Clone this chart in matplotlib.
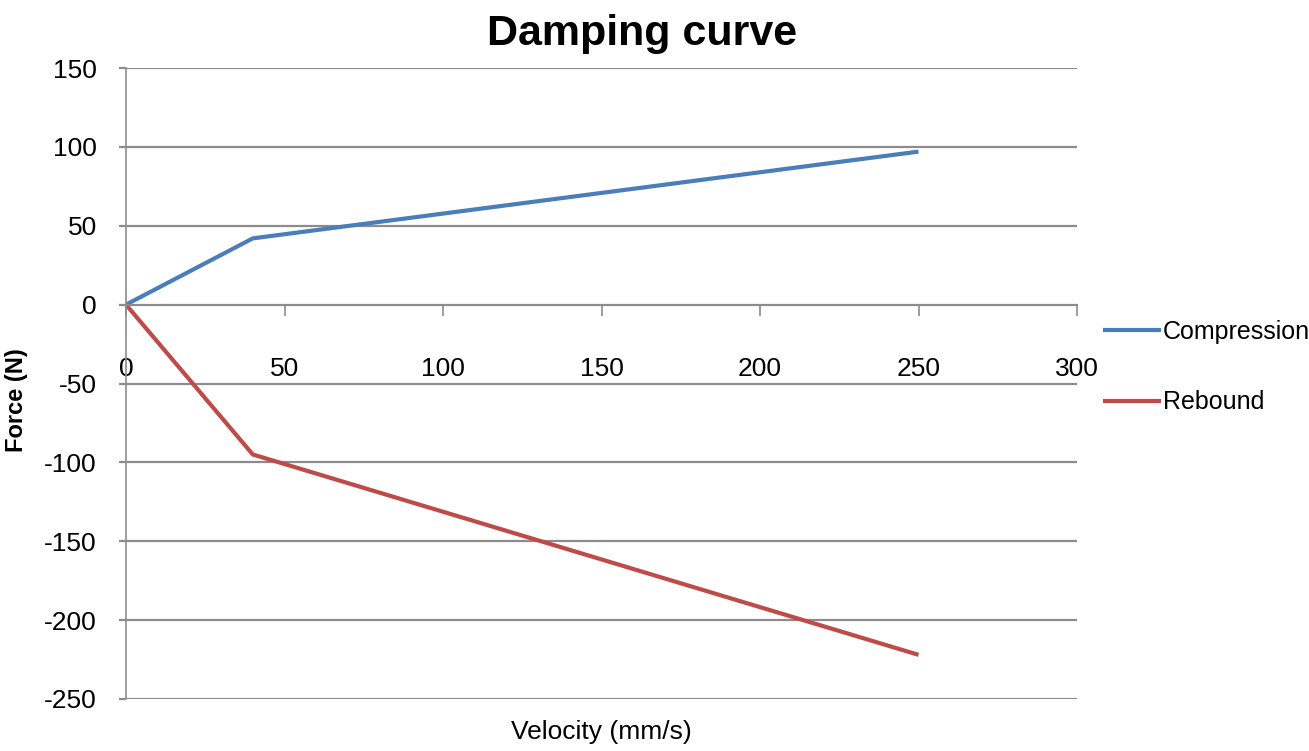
import matplotlib
matplotlib.use("Agg")
import matplotlib.pyplot as plt

# damping curve data
velocity = [0, 40, 250]
compression = [0, 42, 97]
rebound = [0, -95, -222]
x_ticks = [0, 50, 100, 150, 200, 250, 300]
y_ticks = [-250, -200, -150, -100, -50, 0, 50, 100, 150]

plt.rcParams['font.family'] = ['Liberation Sans', 'DejaVu Sans']
plt.rcParams['axes.unicode_minus'] = False

grid_c = '#8c8c8c'
fig = plt.figure(figsize=(13.09, 7.51), dpi=100)
ax = fig.add_axes([126/1309, 1 - 699/751, (1077 - 126)/1309, (699 - 68)/751])

ax.plot(velocity, compression, color='#4a7ebb', lw=3, label='Compression', solid_capstyle='butt')
ax.plot(velocity, rebound, color='#be4b48', lw=3, label='Rebound', solid_capstyle='butt')

ax.set_xlim(0, 300)
ax.set_ylim(-250, 150)
ax.set_xticks(x_ticks)
ax.set_yticks(y_ticks)

for y in y_ticks:
    if y != 0:
        ax.axhline(y, color=grid_c, lw=1.6, zorder=0)

ax.spines['top'].set_visible(False)
ax.spines['right'].set_visible(False)
ax.spines['bottom'].set_position(('data', 0))
ax.spines['bottom'].set_color(grid_c)
ax.spines['bottom'].set_linewidth(1.6)
ax.spines['left'].set_color(grid_c)
ax.spines['left'].set_linewidth(1.2)
ax.tick_params(axis='x', direction='out', length=8, width=1.2, color=grid_c,
               pad=30, labelsize=19)
ax.tick_params(axis='y', direction='out', length=5, width=1.6, color=grid_c,
               pad=16, labelsize=19)

fig.text(601/1309, 1 - 732/751, 'Velocity (mm/s)', ha='center', va='center', fontsize=19)
fig.text(17/1309, 1 - 400/751, 'Force (N)', ha='center', va='center', rotation=90,
         fontsize=17, fontweight='bold')
fig.text(642/1309, 1 - 34/751, 'Damping curve', ha='center', va='center',
         fontsize=31, fontweight='bold')

fig.legend(loc='upper left', bbox_to_anchor=(1103/1309, 1 - 320/751), frameon=False,
           fontsize=18, handlelength=2.3, handletextpad=0.1, labelspacing=1.85,
           borderpad=0, borderaxespad=0)

fig.savefig('out.png', dpi=100)
